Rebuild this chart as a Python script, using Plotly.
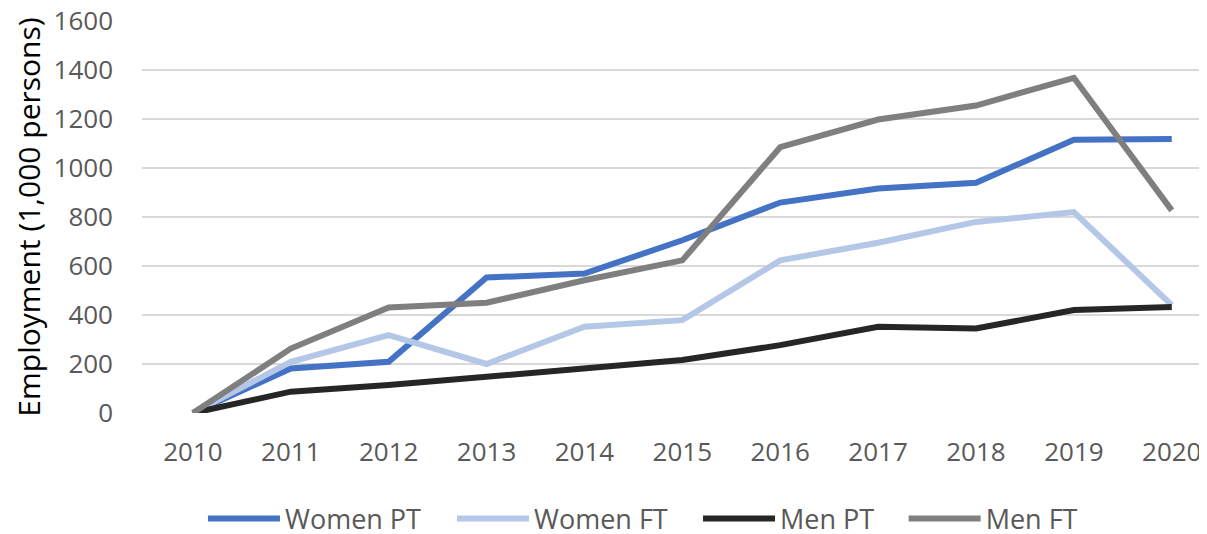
import plotly.graph_objects as go

years = ["2010", "2011", "2012", "2013", "2014", "2015", "2016", "2017", "2018", "2019", "2020"]
women_pt = [0, 182, 209, 553, 569, 705, 859, 916, 940, 1115, 1118]
women_ft = [0, 209, 318, 200, 352, 379, 623, 695, 780, 820, 440]
men_pt = [0, 87, 114, 148, 182, 216, 277, 352, 345, 420, 433]
men_ft = [0, 263, 431, 450, 542, 623, 1085, 1198, 1255, 1368, 827]
y_ticks = [0, 200, 400, 600, 800, 1000, 1200, 1400, 1600]

series = [
    ("Women PT", women_pt, "#4472C4", "legend", 0.1626),
    ("Women FT", women_ft, "#B4C7E7", "legend2", 0.3703),
    ("Men PT", men_pt, "#262626", "legend3", 0.5755),
    ("Men FT", men_ft, "#7F7F7F", "legend4", 0.7470),
]

fig = go.Figure()
for name, vals, col, leg, _ in series:
    fig.add_trace(go.Scatter(x=list(range(len(years))), y=vals, name=name, mode="lines",
                             line=dict(color=col, width=6), legend=leg))

legend_common = dict(orientation="h", xref="container", yref="container",
                     xanchor="left", y=0.0431, yanchor="middle",
                     font=dict(family="Open Sans", size=27, color="#595959"),
                     itemwidth=72, bgcolor="rgba(0,0,0,0)")
legends = {}
for name, vals, col, leg, lx in series:
    legends[leg] = dict(legend_common, x=lx)

# the page body has an 8px margin, so the figure is drawn offset by 8px
fig.update_layout(
    width=1199, height=534,
    paper_bgcolor="white", plot_bgcolor="white",
    margin=dict(l=134, r=0, t=13, b=129),
    font=dict(family="Open Sans", color="#595959", size=26),
    showlegend=True,
    xaxis=dict(range=[-0.52, 10.36], tickmode="array", tickvals=list(range(len(years))),
               ticktext=years, showgrid=False, zeroline=False, showline=False, automargin=False,
               ticks="", ticklabelstandoff=21, ticklabeloverflow="allow",
               tickfont=dict(size=26, color="#595959")),
    yaxis=dict(range=[0, 1600], tickvals=y_ticks, showgrid=True, gridcolor="#D9D9D9",
               gridwidth=2, zeroline=False, showline=False, ticks="", ticklabelstandoff=28,
               automargin=False, ticklabeloverflow="allow",
               tickfont=dict(size=26, color="#595959"),
               title=dict(text="Employment (1,000 persons)", font=dict(size=30, color="#000000"),
                          standoff=4)),
    **legends,
)

fig.write_html("out.html")
